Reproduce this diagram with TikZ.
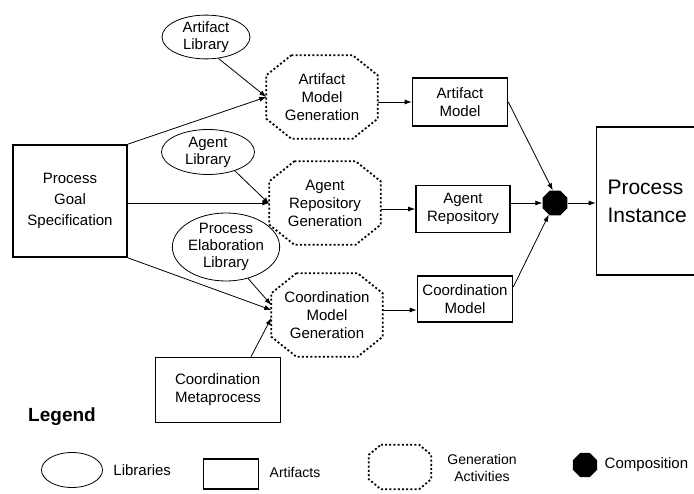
\documentclass[tikz,border=0pt]{standalone}
\usepackage{fontspec}
\setmainfont{Liberation Sans}
\usetikzlibrary{arrows.meta,positioning,shapes.geometric}

% dotted octagon round a (rectangular) node: #1 node, #2 x cut, #3 y cut
\newcommand{\octo}[3]{%
  \draw[genline] ([xshift=#2]#1.north west) -- ([xshift=-#2]#1.north east)
    -- ([yshift=-#3]#1.north east) -- ([yshift=#3]#1.south east)
    -- ([xshift=-#2]#1.south east) -- ([xshift=#2]#1.south west)
    -- ([yshift=#3]#1.south west) -- ([yshift=-#3]#1.north west) -- cycle;}

\begin{document}
\begin{tikzpicture}[x=1pt,y=-1pt,>={Latex[length=7pt,width=5pt]},
  lib/.style={draw,ellipse,line width=0.8pt,inner sep=0pt,align=center,
              font=\fontsize{15}{17}\selectfont},
  art/.style={draw,rectangle,line width=1.6pt,inner sep=0pt,align=center,
              font=\fontsize{15}{18}\selectfont},
  gen/.style={rectangle,inner sep=0pt,align=center,
              minimum width=111pt,minimum height=83pt,
              font=\fontsize{15}{18}\selectfont},
  genline/.style={line width=1.8pt,dash pattern=on 2pt off 2.2pt},
  cmp/.style={fill,regular polygon,regular polygon sides=8,inner sep=0pt,
              minimum size=27pt},
  con/.style={->,line width=0.8pt},
  txt/.style={align=center,font=\fontsize{15}{18}\selectfont}]
  \useasboundingbox (0,0) rectangle (694,494);

  % libraries
  \node[lib,minimum width=88pt,minimum height=41pt] (al) at (206,37) {Artifact\\Library};
  \node[lib,minimum width=93pt,minimum height=45pt] (ag) at (208,152) {Agent\\Library};
  \node[lib,minimum width=95pt,minimum height=68pt] (pel) at (226,247) {Process\\Elaboration\\Library};

  % generation activities
  \node[gen] (amg) at (322,97) {Artifact\\Model\\Generation};
  \node[gen] (arg) at (325,203) {Agent\\Repository\\Generation};
  \node[gen] (cmg) at (327,315) {Coordination\\Model\\Generation};
  \octo{amg}{25pt}{20pt}
  \octo{arg}{25pt}{20pt}
  \octo{cmg}{25pt}{20pt}

  % artifacts
  \node[art,minimum width=114pt,minimum height=112pt,
        font=\fontsize{15}{21}\selectfont] (pgs) at (70,201) {Process\\Goal\\Specification};
  \node[art,minimum width=125pt,minimum height=65pt,align=left] (meta) at (218,390) {Coordination\\Metaprocess};
  \node[art,minimum width=95pt,minimum height=48pt] (am) at (460,102) {Artifact\\Model};
  \node[art,minimum width=94pt,minimum height=47pt] (ar) at (463,209) {Agent\\Repository};
  \node[art,minimum width=95pt,minimum height=46pt] (cm) at (465,299) {Coordination\\Model};
  \node[art,minimum height=148pt,inner xsep=11pt,text width=91pt,align=left,
        font=\fontsize{21}{28}\selectfont] (pi) at (653,201) {Process\\Instance};

  % composition
  \node[cmp] (c) at (555,203) {};

  % inputs to generation
  \draw[con] (al.-60) -- (amg.west);
  \draw[con] (pgs.north east) -- (amg.west);
  \draw[con] (ag.-35) -- ([yshift=-1pt]arg.west);
  \draw[con] (pgs.east |- arg.west) -- (arg.west);
  \draw[con] (pel.-55) -- ([yshift=10pt]cmg.west);
  \draw[con] (pgs.south east) -- ([yshift=5pt]cmg.west);
  \draw[con] ([xshift=33pt]meta.north) -- ([yshift=-3pt]cmg.west);

  % generation to artifacts
  \draw[con] (amg.east |- am.west) -- (am.west);
  \draw[con] (arg.east |- ar.west) -- (ar.west);
  \draw[con] ([yshift=-11pt]cm.west -| cmg.east) -- ([yshift=-11pt]cm.west);

  % composition
  \draw[con] (am.east) -- (c.100);
  \draw[con] (ar.east |- c.west) -- (c.west);
  \draw[con] ([yshift=12pt]cm.east) -- (c.-118);
  \draw[con] (c.east) -- (c.east -| pi.west);

  % legend
  \node[font=\fontsize{19}{22}\selectfont\bfseries] (leg) at (62,417) {Legend};
  \node[lib,minimum width=61pt,minimum height=35pt] (l1) at (72,470) {};
  \node[txt,right=7pt of l1] (l1t) {Libraries};
  \node[art,minimum width=55pt,minimum height=30pt] (l2) at (231,474) {};
  \node[txt,font=\fontsize{14}{17}\selectfont] (l2t) at (295,472) {Artifacts};
  \node[gen,minimum width=62pt,minimum height=44pt] (l3) at (400,467) {};
  \octo{l3}{12pt}{10pt}
  \node[txt,font=\fontsize{14}{17}\selectfont] (l3t) at (482,468) {Generation\\Activities};
  \node[cmp,minimum size=26pt] (l4) at (585,465) {};
  \node[txt,right=4pt of l4] (l4t) {Composition};
\end{tikzpicture}
\end{document}
